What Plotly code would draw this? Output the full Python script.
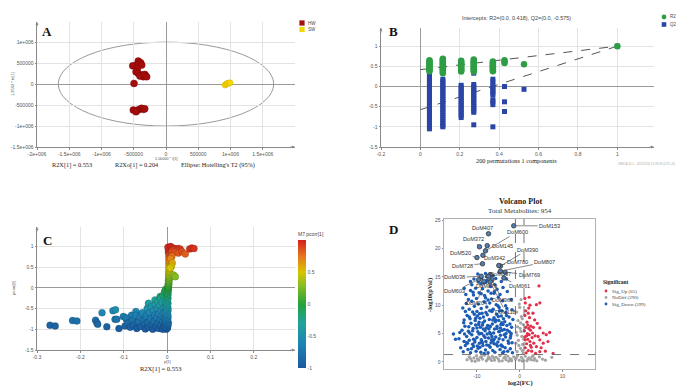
import plotly.graph_objects as go

W, H = 688, 389
def PX(x): return x / W
def PY(y): return 1 - y / H

# ---------------- Panel A: OPLS-DA scores ----------------
hw_t = [-430000, -393000, -455000, -516000, -377000, -445000, -465000, -429000, -377000, -326000,
        -351000, -403000, -341000, -300000, -496000, -507000, -455000, -414000, -377000, -351000, -465000, -330000]
hw_to = [548000, 508000, 452000, 436000, 452000, 373000, 294000, 254000, 214000, 230000,
         175000, 190000, 214000, 175000, 16000, -619000, -635000, -603000, -579000, -603000, -659000, -590000]
sw_t = [915000, 935000, 950000, 970000, 992000]
sw_to = [-24000, -5000, 16000, 22000, 31000]

# ---------------- Panel B: permutation test ----------------
perm_sim = [0.046, 0.114, 0.207, 0.271, 0.368, 0.427, 0.526]
r2_perm = [
    [0.38, 0.41, 0.44, 0.47, 0.50, 0.53, 0.56, 0.59, 0.62, 0.65],
    [0.33, 0.36, 0.39, 0.42, 0.45, 0.48, 0.51, 0.54, 0.57, 0.60, 0.63, 0.66, 0.69],
    [0.37, 0.40, 0.43, 0.46, 0.49, 0.52, 0.55, 0.58, 0.61, 0.64],
    [0.37, 0.40, 0.43, 0.46, 0.49, 0.52, 0.55, 0.58, 0.61, 0.64, 0.67],
    [0.38, 0.41, 0.44, 0.47, 0.50, 0.53, 0.56, 0.59, 0.62],
    [0.58, 0.62, 0.65],
    [0.55],
]
q2_perm = [
    [0.30, 0.25, 0.20, 0.15, 0.10, 0.05, 0.00, -0.05, -0.10, -0.15, -0.20, -0.25, -0.30, -0.35, -0.40,
     -0.45, -0.50, -0.55, -0.60, -0.65, -0.70, -0.75, -0.80, -0.85, -0.90, -0.95, -1.00, -1.05],
    [0.18, 0.13, 0.08, 0.03, -0.02, -0.07, -0.12, -0.17, -0.22, -0.27, -0.32, -0.37, -0.42, -0.47,
     -0.52, -0.57, -0.62, -0.67, -0.72, -0.77, -0.82, -0.87, -0.92, -0.97, -1.00],
    [0.03, -0.02, -0.07, -0.12, -0.17, -0.22, -0.27, -0.32, -0.37, -0.42, -0.47, -0.52, -0.57, -0.62, -0.67, -0.72, -0.77],
    [0.33, 0.05, 0.00, -0.05, -0.10, -0.15, -0.20, -0.25, -0.30, -0.35, -0.40, -0.45, -0.50, -0.55, -0.60, -0.64, -0.95],
    [0.18, 0.12, 0.04, -0.01, -0.06, -0.11, -0.16, -0.21, -0.33, -0.38, -0.45, -1.00],
    [0.00, -0.38, -0.62],
    [-0.07],
]
orig_sim, orig_r2, orig_q2 = 1.0, 1.0, 1.0
r2_intercept, q2_intercept = 0.418, -0.575

# ---------------- Panel C: S-plot ----------------
c_p = [-0.270, -0.258, -0.218, -0.208, -0.165, -0.162, -0.160, -0.150, -0.139, -0.125, -0.119, -0.120,
       -0.116, -0.111, -0.101, -0.094, -0.097, -0.086, -0.082, -0.072, -0.067, -0.063, -0.056, -0.048,
       -0.043, -0.040, -0.035, -0.028, -0.024, -0.021, -0.016, -0.012, -0.010, -0.008,
       -0.095, -0.090, -0.085, -0.080, -0.077, -0.072, -0.070, -0.066, -0.062, -0.060, -0.057, -0.054,
       -0.052, -0.050, -0.048, -0.046, -0.044, -0.042, -0.040, -0.038, -0.036, -0.035, -0.033, -0.031,
       -0.030, -0.028, -0.027, -0.025, -0.024, -0.022, -0.021, -0.020, -0.019, -0.018, -0.017, -0.016,
       -0.015, -0.014, -0.013, -0.012, -0.011, -0.010, -0.010, -0.009, -0.008, -0.008, -0.007, -0.006,
       -0.006, -0.005, -0.005, -0.004, -0.004, -0.003,
       -0.002, 0.001, -0.003, 0.002, -0.001, 0.003, -0.002, 0.001, -0.003, 0.002, -0.001, 0.002, -0.002,
       0.001, -0.003, 0.002, -0.001, 0.002, -0.002, 0.001, -0.001, 0.002, -0.002, 0.001, 0.000, 0.002,
       -0.001, 0.001, 0.002, 0.000, 0.002, 0.001, 0.003, 0.002, 0.003, 0.002, 0.004, 0.003, 0.004, 0.003,
       0.005, 0.004, 0.005, 0.004, 0.005, 0.004, 0.005, 0.004, 0.006, 0.005, 0.004, 0.006, 0.005, 0.004,
       0.006, 0.005, 0.004, 0.006, 0.005, 0.004, 0.006, 0.005, 0.003, 0.005, 0.003, 0.004, 0.002,
       0.008, 0.012, 0.016, 0.020, 0.025, 0.030, 0.022, 0.014, 0.011, 0.018, 0.026, 0.034, 0.042, 0.052,
       0.057, 0.062, 0.011, 0.008, 0.012, 0.010, 0.007, 0.015, 0.019]
c_pcorr = [-0.90, -0.92, -0.79, -0.80, -0.78, -0.84, -0.88, -0.60, -0.94, -0.55, -0.53, -0.76,
           -0.76, -0.98, -0.69, -0.76, -0.92, -0.90, -0.66, -0.57, -0.76, -0.92, -0.63, -0.76,
           -0.37, -0.50, -0.93, -0.29, -0.63, -0.85, -0.21, -0.47, -0.79, -0.98,
           -0.72, -0.85, -0.95, -0.78, -0.90, -0.66, -0.98, -0.82, -0.70, -0.93, -0.60, -0.78,
           -0.88, -0.99, -0.68, -0.50, -0.84, -0.95, -0.60, -0.74, -0.45, -0.90, -1.00, -0.55,
           -0.80, -0.66, -0.40, -0.92, -0.72, -0.50, -0.33, -0.85, -0.98, -0.62, -0.42, -0.76,
           -0.26, -0.90, -0.55, -0.68, -0.35, -1.00, -0.82, -0.18, -0.48, -0.62, -0.93, -0.10,
           -0.72, -0.30, -0.86, -0.55, -0.04, -0.42,
           -1.00, -0.97, -0.94, -0.91, -0.88, -0.85, -0.82, -0.79, -0.76, -0.73, -0.70, -0.67, -0.64,
           -0.61, -0.58, -0.55, -0.52, -0.49, -0.46, -0.43, -0.40, -0.37, -0.34, -0.31, -0.28, -0.25,
           -0.22, -0.19, -0.16, -0.13, -0.10, -0.07, -0.04, -0.01, 0.02, 0.05, 0.08, 0.11, 0.14, 0.17,
           0.20, 0.23, 0.26, 0.29, 0.32, 0.35, 0.38, 0.41, 0.44, 0.47, 0.50, 0.53, 0.56, 0.59,
           0.62, 0.65, 0.68, 0.71, 0.74, 0.77, 0.80, 0.83, 0.86, 0.89, 0.92, 0.95, 0.98,
           1.00, 0.97, 0.95, 0.93, 0.95, 0.94, 0.90, 0.92, 0.88, 0.86, 0.84, 0.88, 0.82, 0.94,
           0.96, 0.95, 0.76, 0.70, 0.60, 0.52, 0.48, 0.31, 0.27]

# ---------------- Panel D: volcano ----------------
down_fc = [-13.2, -12.1, -11.5, -10.8, -10.2, -9.7, -9.1, -8.6, -8.0, -7.4, -6.9, -6.3, -5.8, -5.2, -4.6, -4.0, -3.4, -2.8, -2.2, -1.7,
           -12.7, -11.0, -9.4, -7.7, -6.0, -4.3, -2.6, -13.8, -8.3, -3.7,
           -14.2, -13.0, -12.4, -11.8, -11.2, -10.5, -10.0, -9.5, -9.0, -8.4, -7.9, -7.3, -6.8, -6.2, -5.6, -5.1, -4.5, -3.9, -3.3, -2.7,
           -2.1, -1.8, -12.9, -10.8, -8.7, -6.5, -4.8, -15.5, -14.0, -15.0,
           -13.5, -12.8, -12.0, -11.4, -10.9, -10.3, -9.8, -9.2, -8.6, -8.1, -7.5, -7.0, -6.4, -5.9, -5.3, -4.7, -4.2, -3.6, -3.0, -2.4,
           -1.9, -11.7, -9.5, -7.8, -6.1, -4.5, -13.1,
           -13.0, -12.3, -11.6, -11.0, -10.4, -9.9, -9.3, -8.8, -8.2, -7.6, -7.1, -6.5, -6.0, -5.4, -4.9, -4.3, -3.8, -3.2, -2.5,
           -12.7, -10.0, -8.5, -5.7, -3.5,
           -13.3, -12.5, -11.8, -11.2, -10.6, -9.7, -9.0, -8.3, -7.7, -7.0, -6.2, -5.5, -4.8, -4.0, -3.3, -12.0, -10.1, -8.0, -6.6, -5.0,
           -12.6, -11.5, -10.8, -10.3, -9.5, -8.7, -8.2, -7.4, -6.8, -6.0, -5.3, -4.6, -3.9, -11.2, -9.1, -7.9, -5.8, -4.3, -2.9, -13.0,
           -10.7, -9.8, -8.9, -8.0, -7.6, -6.2, -5.6, -4.8, -3.1, -11.5,
           -1.6, -1.8, -2.0, -9.3, -6.7, -4.1, -11.9, -7.2, -5.0, -3.0, -10.6, -8.9, -6.3, -2.3, -12.2, -9.6, -7.0, -4.4,
           -11.3, -10.5, -9.9, -8.9, -8.1, -7.2, -6.6, -5.5, -4.9, -4.0, -3.2, -12.4, -11.0, -10.0, -9.2, -8.5, -7.6, -6.9,
           -6.0, -5.3, -4.4, -3.6, -2.9, -2.2, -11.8, -10.3, -9.4, -8.7, -7.9, -7.0, -6.4, -5.6, -4.7, -3.9, -3.1, -2.0,
           -10.9, -9.0, -7.4, -5.9, -4.2, -8.4, -6.7, -5.1, -9.7, -7.8]
down_p = [1.8, 2.2, 1.6, 2.7, 1.9, 2.4, 1.7, 2.9, 2.1, 1.6, 2.6, 2.0, 1.7, 2.8, 2.2, 1.6, 2.5, 1.9, 2.3, 1.6,
          2.9, 3.1, 3.3, 3.0, 3.2, 3.0, 3.3, 2.5, 1.5, 1.8,
          4.1, 3.6, 4.5, 3.8, 4.8, 3.5, 4.3, 4.9, 3.9, 4.6, 3.6, 4.2, 4.9, 3.7, 4.4, 3.5, 4.7, 3.9, 4.4, 3.7,
          4.6, 3.4, 4.9, 4.0, 3.4, 4.5, 4.1, 4.9, 5.2, 4.0,
          5.6, 6.3, 5.4, 6.8, 5.9, 6.5, 5.3, 6.1, 6.9, 5.5, 6.4, 5.2, 6.7, 5.8, 6.3, 5.4, 6.9, 5.7, 6.4, 5.3,
          6.1, 5.1, 7.0, 6.0, 5.1, 6.0, 6.9,
          7.4, 8.2, 7.6, 8.8, 7.3, 8.1, 7.7, 8.6, 7.2, 8.3, 7.5, 8.9, 7.8, 8.4, 7.3, 8.1, 7.6, 8.7, 7.9,
          8.9, 8.9, 7.9, 7.1, 7.1,
          9.5, 10.3, 9.3, 10.7, 9.8, 10.2, 9.4, 10.6, 9.7, 10.4, 9.3, 10.1, 9.6, 10.8, 9.9, 11.0, 11.2, 11.3, 11.1, 11.4,
          11.9, 12.6, 11.8, 13.0, 12.2, 12.9, 11.7, 12.5, 13.3, 12.1, 12.8, 11.9, 13.1, 13.6, 13.8, 14.0, 13.6, 14.2, 12.4, 13.0,
          14.6, 15.5, 14.8, 15.6, 14.4, 15.2, 14.7, 15.8, 14.6, 14.2,
          7.5, 9.2, 11.0, 2.6, 3.4, 5.6, 6.2, 5.8, 8.0, 9.4, 8.4, 5.0, 7.4, 6.7, 3.3, 6.6, 9.0, 2.9,
          2.3, 3.9, 2.8, 3.7, 4.3, 2.9, 3.9, 3.1, 5.3, 2.7, 5.0, 3.4, 5.5, 6.0, 5.0, 5.8, 4.9, 6.2,
          4.0, 5.9, 6.6, 4.8, 5.6, 4.2, 7.9, 7.7, 8.5, 6.5, 8.7, 6.3, 9.1, 7.4, 9.0, 6.6, 8.2, 5.0,
          12.3, 12.0, 10.9, 12.4, 9.0, 13.9, 12.1, 9.9, 14.1, 15.0]
up_fc = [1.2, 2.2, 4.5, 1.3, 4.7, 3.9, 2.1, 3.1, 3.5, 4.1, 4.7, 5.5, 6.2, 7.0, 4.7, 5.5, 3.9, 7.8, 4.7, 6.6,
         1.3, 1.6, 1.9, 2.2, 2.5, 1.4, 1.8, 2.4, 2.7, 1.2, 2.0, 1.5, 2.9, 2.6, 1.7, 1.2, 2.3, 3.0, 3.3, 1.9,
         1.1, 2.8, 3.6, 1.4, 2.0, 2.5, 1.6, 2.1, 3.2, 1.3, 4.3, 5.0, 6.0, 3.7, 2.4]
up_p = [11.2, 11.4, 13.4, 10.4, 10.4, 10.1, 9.5, 8.6, 7.4, 6.8, 6.0, 5.1, 4.8, 5.2, 3.9, 3.3, 2.7, 1.5, 1.8, 3.6,
        2.5, 3.2, 4.0, 4.8, 5.6, 6.1, 5.0, 3.6, 2.6, 4.4, 2.0, 1.6, 4.3, 6.3, 7.0, 8.2, 7.8, 5.1, 3.3, 6.5,
        5.5, 1.9, 4.6, 9.0, 8.6, 2.9, 4.6, 5.9, 6.1, 3.9, 4.5, 2.5, 1.9, 1.5, 10.0]
nodiff_fc = [-12.3, -11.8, -11.2, -10.7, -10.1, -9.6, -9.2, -8.7, -8.2, -7.8, -7.3, -6.9, -6.4, -5.9, -5.5, -5.0, -4.6, -4.1,
             -3.7, -3.2, -2.8, -2.3, -1.9, -1.4, -1.0, -0.5, -0.1, 0.4, 0.8, 1.3, 1.7, 2.2, 2.6, 3.1, 3.5, 4.0, 4.6,
             5.3, 6.0, 7.5, -11.5, -10.4, -8.9, -7.5, -6.1, -4.8, -3.4, -2.0, -0.8, 0.6, 1.9, 3.3, -9.9, -6.6, -2.6, 2.9,
             -0.6, 0.2, 0.7, -0.3, 0.5, -0.8, 0.1, 0.8, -0.4, 0.4, -0.7, 0.0, 0.6, -0.2, 0.9, -0.9, 0.3, -0.5, 0.6,
             -0.1, 0.3, -0.6, 0.2, 0.8]
nodiff_p = [0.4, 0.9, 0.2, 0.7, 1.1, 0.3, 0.8, 0.5, 1.2, 0.2, 0.9, 0.6, 1.0, 0.3, 0.8, 0.5, 1.1, 0.2,
            0.7, 0.4, 1.0, 0.6, 0.2, 0.9, 0.5, 1.1, 0.3, 0.8, 0.4, 1.0, 0.2, 0.7, 0.4, 1.1, 0.6, 0.2, 0.9,
            0.5, 0.3, 0.8, 0.6, 0.1, 0.95, 0.45, 0.75, 0.15, 0.9, 0.45, 0.7, 0.15, 0.55, 0.3, 0.55, 0.25, 0.15, 0.9,
            1.8, 2.4, 3.1, 3.8, 4.5, 5.2, 5.9, 6.6, 7.3, 8.0, 8.8, 9.6, 2.0, 2.9, 4.0, 3.3, 5.4, 6.2, 7.6,
            10.2, 11.0, 4.7, 6.9, 1.6]

lab_names = ["DoM153", "DoM407", "DoM600", "DoM372", "DoM145", "DoM520", "DoM342", "DoM728", "DoM390", "DoM780",
             "DoM807", "DoM097", "DoM769", "DoM038", "DoM603", "DoM879", "DoM061", "DoM960", "DoM204", "DoM118"]
lab_fc = [-1.4, -7.3, -8.0, -9.4, -7.6, -10.0, -8.6, -8.7, -4.5, -4.9, -4.5, -6.9, -3.4, -9.0, -9.6, -7.3, -3.7, -6.5, -8.4, -6.9]
lab_p = [24.0, 22.6, 19.6, 20.3, 20.5, 18.4, 18.8, 17.3, 16.9, 17.0, 16.0, 15.4, 15.8, 15.1, 14.5, 15.1, 14.8, 14.5, 14.2, 14.1]
lab_tx = [7.0, -8.7, -0.6, -10.9, -4.1, -13.8, -5.9, -13.4, 1.9, -0.6, 5.9, -4.5, 2.2, -15.2, -15.2, -7.7, 0.0, -4.1, -10.0, -3.3]
lab_ty = [24.0, 23.7, 22.9, 21.6, 20.5, 19.2, 18.4, 17.0, 19.8, 17.7, 17.6, 15.5, 15.4, 14.9, 12.5, 13.3, 13.3, 11.0, 10.4, 8.8]

# ---------------- Figure ----------------
SANS = "Liberation Sans"
SERIF = "Liberation Serif"
TICKF = dict(family=SANS, size=5, color="#555")
GRID = "#e3e3e3"

fig = go.Figure()

fig.add_trace(go.Scatter(x=hw_t, y=hw_to, mode="markers", xaxis="x", yaxis="y",
                         marker=dict(size=7, color="#a50d0d", line=dict(width=0.4, color="#700"))))
fig.add_trace(go.Scatter(x=sw_t, y=sw_to, mode="markers", xaxis="x", yaxis="y",
                         marker=dict(size=6, color="#f4d600", line=dict(width=0.4, color="#c9a800"))))

r2x, r2y, q2x, q2y = [], [], [], []
for s, col in zip(perm_sim, r2_perm):
    r2x += [s] * len(col); r2y += col
for s, col in zip(perm_sim, q2_perm):
    q2x += [s] * len(col); q2y += col
fig.add_trace(go.Scatter(x=[0, orig_sim], y=[r2_intercept, orig_r2], mode="lines", xaxis="x2", yaxis="y2",
                         line=dict(color="#555", width=1, dash="dash")))
fig.add_trace(go.Scatter(x=[0, orig_sim], y=[q2_intercept, orig_q2], mode="lines", xaxis="x2", yaxis="y2",
                         line=dict(color="#555", width=1, dash="dash")))
fig.add_trace(go.Scatter(x=q2x + [orig_sim], y=q2y + [orig_q2], mode="markers", xaxis="x2", yaxis="y2",
                         marker=dict(size=5, symbol="square", color="#2a45a6")))
fig.add_trace(go.Scatter(x=r2x + [orig_sim], y=r2y + [orig_r2], mode="markers", xaxis="x2", yaxis="y2",
                         marker=dict(size=6.5, color="#2e9e44")))

cscale = [[0.0, "#1b5a9e"], [0.2, "#1f86b4"], [0.35, "#1fa39a"], [0.5, "#27a23c"],
          [0.65, "#8cbf1e"], [0.75, "#d8c400"], [0.87, "#e7781c"], [1.0, "#d2211f"]]
fig.add_trace(go.Scatter(x=c_p, y=c_pcorr, mode="markers", xaxis="x3", yaxis="y3",
                         marker=dict(size=7, color=c_pcorr, cmin=-1, cmax=1, colorscale=cscale,
                                     line=dict(width=0.4, color="rgba(0,0,0,0.35)"),
                                     colorbar=dict(x=PX(298), xanchor="left", y=PY(298.5), yanchor="middle",
                                                   len=139 / H, thickness=8, outlinewidth=0, xpad=0, ypad=0,
                                                   tickvals=[-1, -0.5, 0, 0.5], ticktext=["-1", "-0.5", "0", "0.5"],
                                                   tickfont=TICKF, ticks="",
                                                   title=dict(text="M7.pcorr[1]", side="top",
                                                              font=dict(family=SANS, size=5, color="#444"))))))

fig.add_trace(go.Scatter(x=nodiff_fc, y=nodiff_p, mode="markers", xaxis="x4", yaxis="y4",
                         marker=dict(size=3.2, color="#a4a4a4")))
fig.add_trace(go.Scatter(x=down_fc, y=down_p, mode="markers", xaxis="x4", yaxis="y4",
                         marker=dict(size=3.5, color="#1d5cb4")))
fig.add_trace(go.Scatter(x=up_fc, y=up_p, mode="markers", xaxis="x4", yaxis="y4",
                         marker=dict(size=3.2, color="#e23049")))
fig.add_trace(go.Scatter(x=lab_fc, y=lab_p, mode="markers", xaxis="x4", yaxis="y4",
                         marker=dict(size=4.5, color="#4f7fb3", line=dict(width=0.8, color="#333"))))

def ax(domain, rng, tv, tt, **kw):
    d = dict(domain=domain, range=rng, tickvals=tv, ticktext=tt, tickfont=TICKF,
             showgrid=True, gridcolor=GRID, gridwidth=1, zeroline=True, zerolinecolor="#9a9a9a",
             zerolinewidth=1, showline=True, linecolor="#8a8a8a", linewidth=1,
             ticks="outside", ticklen=1.5, tickcolor="#8a8a8a", fixedrange=True)
    d.update(kw)
    return d

xdA = [PX(37), PX(295)]
ydA = [PY(147), PY(22)]
xdB = [PX(381), PX(654)]
ydB = [PY(147), PY(28)]
xdC = [PX(37), PX(295)]
ydC = [PY(350), PY(227)]
xdD = [PX(444), PX(595)]
ydD = [PY(369), PY(219)]

layout = dict(
    template="none",
    width=W, height=H, autosize=False, margin=dict(l=0, r=0, t=0, b=0, pad=0),
    paper_bgcolor="white", plot_bgcolor="white", showlegend=False,
    font=dict(family=SANS, color="#333"),
    xaxis=ax(xdA, [-2e6, 2e6], [-2e6, -1.5e6, -1e6, -5e5, 0, 5e5, 1e6, 1.5e6],
             ["-2e+006", "-1.5e+006", "-1e+006", "-500000", "0", "500000", "1e+006", "1.5e+006"], anchor="y"),
    yaxis=ax(ydA, [-1.5e6, 1.48e6], [-1.5e6, -1e6, -5e5, 0, 5e5, 1e6],
             ["-1.5e+006", "-1e+006", "-500000", "0", "500000", "1e+006"], anchor="x"),
    xaxis2=ax(xdB, [-0.2, 1.186], [-0.2, 0, 0.2, 0.4, 0.6, 0.8, 1], ["-0.2", "0", "0.2", "0.4", "0.6", "0.8", "1"], anchor="y2"),
    yaxis2=ax(ydB, [-1.5, 1.45], [-1.5, -1, -0.5, 0, 0.5, 1], ["-1.5", "-1", "-0.5", "0", "0.5", "1"], anchor="x2"),
    xaxis3=ax(xdC, [-0.3, 0.295], [-0.3, -0.2, -0.1, 0, 0.1, 0.2], ["-0.3", "-0.2", "-0.1", "0", "0.1", "0.2"], anchor="y3"),
    yaxis3=ax(ydC, [-1.5, 1.47], [-1.5, -1, -0.5, 0, 0.5, 1], ["-1.5", "-1", "-0.5", "0", "0.5", "1"], anchor="x3"),
    xaxis4=ax(xdD, [-17.7, 17.6], [-10, 0, 10], ["-10", "0", "10"], anchor="y4", showgrid=False, zeroline=False,
              mirror=True, linecolor="#b0b0b0"),
    yaxis4=ax(ydD, [-1.25, 25.2], [0, 5, 10, 15, 20, 25], ["0", "5", "10", "15", "20", "25"], anchor="x4",
              showgrid=False, zeroline=False, mirror=True, linecolor="#b0b0b0"),
)
fig.update_layout(**layout)

shapes = []
ann = []

shapes.append(dict(type="circle", xref="x", yref="y", x0=-1.67e6, x1=1.67e6, y0=-1.0e6, y1=1.0e6,
                   line=dict(color="#9a9a9a", width=1), layer="below"))
for v in [-1, 1]:
    shapes.append(dict(type="line", xref="x4", yref="y4", x0=v, x1=v, y0=-1.25, y1=25.2,
                       line=dict(color="#666", width=0.9, dash="dash")))
shapes.append(dict(type="line", xref="x4", yref="y4", x0=-17.7, x1=17.6, y0=1.3, y1=1.3,
                   line=dict(color="#666", width=0.9, dash="dash")))

def sq(x, y, c, s=2.6):
    shapes.append(dict(type="rect", xref="paper", yref="paper", x0=PX(x - s), x1=PX(x + s),
                       y0=PY(y + s), y1=PY(y - s), fillcolor=c, line=dict(width=0)))
def dot(x, y, c, s=2.4):
    shapes.append(dict(type="circle", xref="paper", yref="paper", x0=PX(x - s), x1=PX(x + s),
                       y0=PY(y + s), y1=PY(y - s), fillcolor=c, line=dict(width=0)))
def txt(x, y, s, size=5, family=SANS, color="#444", xanchor="left", bold=False, angle=0):
    ann.append(dict(x=PX(x), y=PY(y), xref="paper", yref="paper", text=(f"<b>{s}</b>" if bold else s),
                    showarrow=False, xanchor=xanchor, yanchor="middle", textangle=angle,
                    font=dict(family=family, size=size, color=color)))

sq(302, 23, "#a50d0d"); txt(306, 23, "HW", 4.5)
sq(302, 29.5, "#f4d600"); txt(306, 29.5, "SW", 4.5)
dot(664, 17, "#2e9e44"); txt(668, 17, "R2", 4.5)
sq(664, 24.5, "#2a45a6", 2.3); txt(668, 24.5, "Q2", 4.5)

txt(601, 282, "Significant", 5.5, SERIF, "#222", bold=True)
dot(606, 291, "#e23049", 1.4); txt(610, 291, "Sig_Up (65)", 5, SERIF)
dot(606, 297.5, "#a4a4a4", 1.4); txt(610, 297.5, "NoDiff (290)", 5, SERIF)
dot(606, 304, "#1d5cb4", 1.4); txt(610, 304, "Sig_Down (599)", 5, SERIF)

for L, x, y in [("A", 47, 31), ("B", 393, 31), ("C", 47, 240), ("D", 393, 230)]:
    txt(x, y, L, 13, SERIF, "#111", xanchor="center", bold=True)

txt(166, 158.5, "1.00000 * t[1]", 3.8, SANS, "#555", xanchor="center")
txt(12, 84, "1.2542 * to[1]", 4, SANS, "#555", xanchor="center", angle=-90)
txt(72, 165, "R2X[1] = 0.553", 6.3, SERIF, "#222", xanchor="center")
txt(137, 165, "R2Xo[1] = 0.204", 6.3, SERIF, "#222", xanchor="center")
txt(218, 165, "Ellipse: Hotelling's T2 (95%)", 6.3, SERIF, "#222", xanchor="center")

txt(516, 18, "Intercepts: R2=(0.0, 0.418), Q2=(0.0, -0.575)", 5.5, SANS, "#444", xanchor="center")
txt(516, 160, "200 permutations 1 components", 6.3, SERIF, "#222", xanchor="center")
txt(677, 163.5, "SIMCA 14.1 - 2022/2/24 15:39:29 (UTC+8)", 3, SANS, "#aaa", xanchor="right")

txt(167, 361.8, "p[1]", 4, SANS, "#555", xanchor="center")
txt(13, 288, "pcorr[1]", 4.2, SANS, "#555", xanchor="center", angle=-90)
txt(160, 369, "R2X[1] = 0.553", 6.5, SERIF, "#222", xanchor="center")

txt(520, 201, "Volcano Plot", 8, SERIF, "#222", xanchor="center", bold=True)
txt(520, 211, "Total Metabolites: 954", 7, SERIF, "#333", xanchor="center")
txt(520, 383, "log2(FC)", 6.5, SERIF, "#222", xanchor="center", bold=True)
txt(430, 295, "-log10(pVal)", 6.5, SERIF, "#222", xanchor="center", bold=True, angle=-90)

for n, x, y, tx, ty in zip(lab_names, lab_fc, lab_p, lab_tx, lab_ty):
    ann.append(dict(x=x, y=y, xref="x4", yref="y4", ax=tx, ay=ty, axref="x4", ayref="y4",
                    text=n, showarrow=True, arrowhead=0, arrowwidth=0.7, arrowcolor="#555",
                    font=dict(family=SANS, size=5.6, color="#333"), standoff=1))

for xr, yr, xmin, xmax, ymin, ymax in [("x", "y", -2e6, 2e6, -1.5e6, 1.48e6),
                                        ("x2", "y2", -0.2, 1.186, -1.5, 1.45),
                                        ("x3", "y3", -0.3, 0.295, -1.5, 1.47)]:
    ann.append(dict(x=xmin, y=ymax, xref=xr, yref=yr, ax=0, ay=6, text="", showarrow=True,
                    arrowhead=2, arrowsize=0.6, arrowwidth=1, arrowcolor="#8a8a8a"))
    ann.append(dict(x=xmax, y=ymin, xref=xr, yref=yr, ax=-6, ay=0, text="", showarrow=True,
                    arrowhead=2, arrowsize=0.6, arrowwidth=1, arrowcolor="#8a8a8a"))

fig.update_layout(shapes=shapes, annotations=ann)
fig.write_html("out.html", config={"displayModeBar": False, "staticPlot": True},
               post_script="document.body.style.margin='0';document.body.style.overflow='hidden';")
